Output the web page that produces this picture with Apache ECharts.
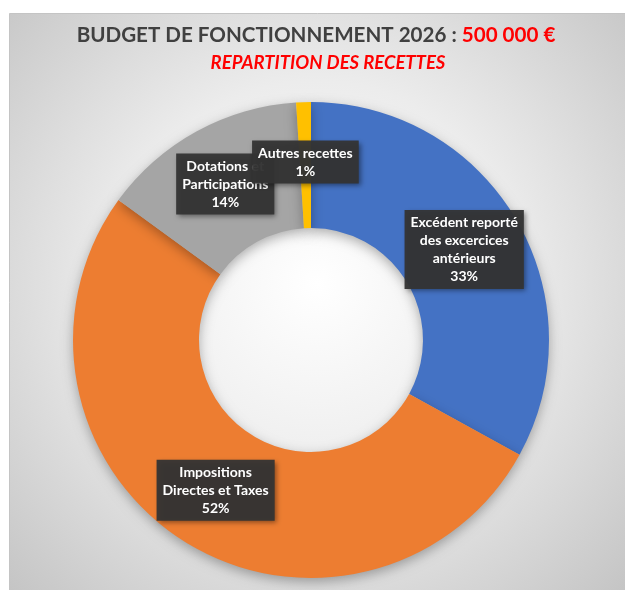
<!DOCTYPE html>
<html>
<head>
<meta charset="utf-8">
<script src="https://cdn.jsdelivr.net/npm/echarts@6/dist/echarts.min.js"></script>
<style>
  html, body { margin: 0; padding: 0; background: #fff; }
  #chart { width: 625px; height: 590px; }
</style>
</head>
<body>
<div id="chart"></div>
<script>
const categories = [
  'Excédent reporté\ndes excercices\nantérieurs',
  'Impositions\nDirectes et Taxes',
  'Dotations et\nParticipations',
  'Autres recettes'
];
const amounts = [165000, 260000, 70000, 5000];
const colors = ['#4472C4', '#ED7D31', '#A5A5A5', '#FFC000'];

const chart = echarts.init(document.getElementById('chart'));

chart.setOption({
  animation: false,
  graphic: [
    {
      type: 'rect',
      z: -10,
      shape: { x: 9.5, y: 13.5, width: 640, height: 600 },
      style: {
        fill: {
          type: 'radial', x: 0.48, y: 0.45, r: 0.75,
          colorStops: [
            { offset: 0, color: '#ffffff' },
            { offset: 0.45, color: '#ececec' },
            { offset: 1, color: '#c2c2c2' }
          ]
        },
        stroke: '#c4c4c4',
        lineWidth: 1
      }
    }
  ],
  title: [
    {
      left: 311,
      textAlign: 'center',
      top: 20,
      text: '{a|BUDGET DE FONCTIONNEMENT 2026 : }{b|500 000 €}',
      textStyle: {
        rich: {
          a: { fontFamily: 'Lato', fontWeight: 'bold', fontSize: 20.6, color: '#404040' },
          b: { fontFamily: 'Lato', fontWeight: 'bold', fontSize: 20.6, color: '#FF0000' }
        }
      }
    },
    {
      left: 323,
      textAlign: 'center',
      top: 49,
      text: 'REPARTITION DES RECETTES',
      textStyle: {
        fontFamily: 'Lato', fontWeight: 'bold', fontStyle: 'italic', fontSize: 18.5, color: '#FF0000'
      }
    }
  ],
  series: [
    {
      type: 'pie',
      center: [311, 340],
      radius: [112, 238],
      startAngle: 90,
      clockwise: true,
      percentPrecision: 0,
      avoidLabelOverlap: false,
      minShowLabelAngle: 0,
      labelLayout: { hideOverlap: false },
      data: categories.map((name, i) => ({ name: name, value: amounts[i], itemStyle: { color: colors[i] } })),
      itemStyle: {
        shadowBlur: 12,
        shadowOffsetY: 4,
        shadowColor: 'rgba(0,0,0,0.3)'
      },
      label: {
        show: true,
        position: 'inside',
        formatter: '{b}\n{d}%',
        color: '#ffffff',
        fontFamily: 'Lato',
        fontWeight: 'bold',
        fontSize: 14,
        lineHeight: 18,
        align: 'center',
        backgroundColor: 'rgba(52,52,52,0.95)',
        padding: [4, 6, 3, 6],
        shadowBlur: 5,
        shadowOffsetX: 2,
        shadowOffsetY: 2,
        shadowColor: 'rgba(0,0,0,0.45)'
      },
      labelLine: { show: false },
      emphasis: { disabled: true }
    }
  ]
});
</script>
</body>
</html>
